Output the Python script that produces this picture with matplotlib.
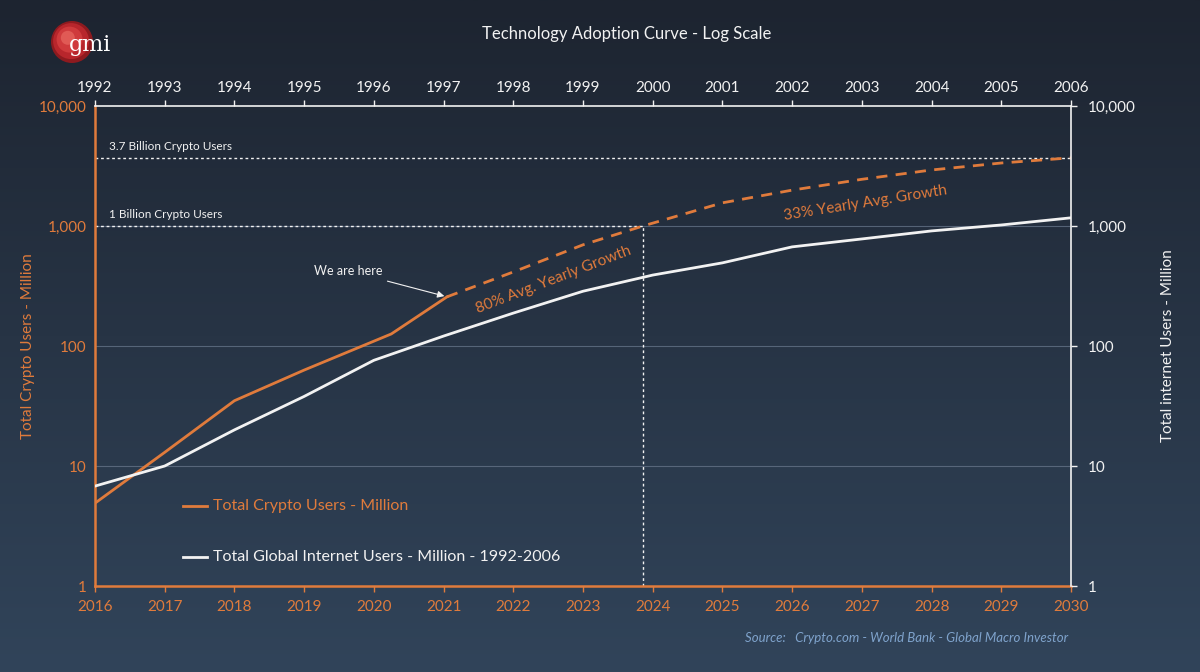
import matplotlib
matplotlib.use("Agg")
import matplotlib.pyplot as plt
import numpy as np
from matplotlib.patches import Circle

plt.rcParams['font.family'] = ['Lato', 'DejaVu Sans']

# +-----+ data +-----+ #
crypto_years = [2016, 2017, 2018, 2019, 2020.25, 2021.05]
crypto_users = [4.9, 13, 35, 63, 126, 257]

proj_years = [2021.05, 2022, 2023, 2023.86, 2025, 2026, 2027, 2028, 2029, 2030]
proj_users = [257, 414, 697, 1000, 1560, 1990, 2450, 2930, 3350, 3700]

net_years = list(range(1992, 2007))
net_users = [6.8, 10, 20, 38, 76, 121, 188, 286, 390, 493, 670, 780, 910, 1020, 1170]

y_ticks = [1, 10, 100, 1000, 10000]
y_labels = ["1", "10", "100", "1,000", "10,000"]
bottom_years = list(range(2016, 2031))
top_years = list(range(1992, 2007))

orange = '#e07b3c'
white = '#f2f2f2'

fig = plt.figure(figsize=(12, 6.72), dpi=100)

# fond en dégradé
bg = fig.add_axes([0, 0, 1, 1], zorder=-10)
grad = np.linspace(0, 1, 256).reshape(-1, 1)
c_top = np.array([29, 36, 48]) / 255
c_bot = np.array([49, 68, 90]) / 255
img = c_top + (c_bot - c_top) * grad[:, :, None]
bg.imshow(img, aspect='auto', extent=[0, 1, 0, 1])
bg.axis('off')

ax = fig.add_axes([95/1200, 86/672, 976/1200, 480/672])
ax.set_facecolor('none')
ax.set_yscale('log')
ax.set_ylim(1, 10000)
ax.set_xlim(2016, 2030)

# grille
for v in [10, 100, 1000]:
    ax.axhline(v, color='#6b7a8e', lw=0.8, alpha=0.7, zorder=1)

# lignes pointillées de repère
ax.plot([2016, 2030], [3700, 3700], color=white, lw=1, ls=(0, (2, 2)), zorder=2)
ax.plot([2016, 2023.86], [1000, 1000], color=white, lw=1, ls=(0, (2, 2)), zorder=2)
ax.plot([2023.86, 2023.86], [1, 1000], color=white, lw=1, ls=(0, (2, 2)), zorder=2)

ax.plot(crypto_years, crypto_users, color=orange, lw=2, zorder=4)
ax.plot(proj_years, proj_users, color=orange, lw=2, ls=(0, (4, 3)), zorder=4)

ax.set_xticks(bottom_years)
ax.set_xticklabels([str(y) for y in bottom_years])
ax.set_yticks(y_ticks)
ax.set_yticklabels(y_labels)
ax.yaxis.set_minor_locator(plt.NullLocator())
ax.tick_params(axis='x', colors=orange, labelsize=11, length=4, width=1, pad=6)
ax.tick_params(axis='y', colors=orange, labelsize=11, length=0, pad=6)
for s in ['left', 'bottom']:
    ax.spines[s].set_color(orange)
    ax.spines[s].set_linewidth(1.8)
ax.spines['right'].set_visible(False)
ax.spines['top'].set_visible(False)
ax.set_ylabel("Total Crypto Users - Million", color=orange, fontsize=11)
ax.yaxis.set_label_coords(-0.0615, 0.5)

# axe du haut : internet 1992-2006
axt = ax.twiny()
axt.set_xlim(1992, 2006)
axt.plot(net_years, net_users, color=white, lw=2, zorder=4)
axt.set_xticks(top_years)
axt.set_xticklabels([str(y) for y in top_years])
axt.tick_params(axis='x', colors=white, labelsize=11, length=4, width=1, pad=4)
axt.spines['top'].set_color(white)
axt.spines['top'].set_linewidth(1.2)
for s in ['left', 'bottom', 'right']:
    axt.spines[s].set_visible(False)

# axe de droite
axr = ax.twinx()
axr.set_yscale('log')
axr.set_ylim(1, 10000)
axr.set_yticks(y_ticks)
axr.set_yticklabels(y_labels)
axr.yaxis.set_minor_locator(plt.NullLocator())
axr.tick_params(axis='y', colors=white, labelsize=11, length=4, width=1, pad=8)
axr.spines['right'].set_color(white)
axr.spines['right'].set_linewidth(1.2)
for s in ['left', 'bottom', 'top']:
    axr.spines[s].set_visible(False)
axr.set_ylabel("Total internet Users - Million", color=white, fontsize=11, labelpad=18)

# textes
ax.text(2016.2, 3700 * 1.12, "3.7 Billion Crypto Users", color=white, fontsize=8.5, va='bottom')
ax.text(2016.2, 1000 * 1.12, "1 Billion Crypto Users", color=white, fontsize=8.5, va='bottom')
ax.annotate("We are here", xy=(2021.05, 257), xytext=(2020.13, 422),
            color=white, fontsize=9, ha='right', va='center',
            arrowprops=dict(arrowstyle='-|>', color=white, lw=0.8, mutation_scale=10,
                            shrinkA=4, shrinkB=2))
ax.text(2022.58, 355, "80% Avg. Yearly Growth", color=orange, fontsize=11,
        rotation=21, ha='center', va='center')
ax.text(2027.05, 1560, "33% Yearly Avg. Growth", color=orange, fontsize=11,
        rotation=9, ha='center', va='center')

# légende
fig.add_artist(plt.Line2D([183/1200, 207/1200], [1 - 506/672] * 2, color=orange, lw=2))
fig.text(213/1200, 1 - 506/672, "Total Crypto Users - Million", color=orange, fontsize=11.5, va='center')
fig.add_artist(plt.Line2D([183/1200, 207/1200], [1 - 557/672] * 2, color=white, lw=2))
fig.text(213/1200, 1 - 557/672, "Total Global Internet Users - Million - 1992-2006", color=white,
         fontsize=11.5, va='center')

fig.text(627/1200, 1 - 34/672, "Technology Adoption Curve - Log Scale", color=white,
         fontsize=12, ha='center', va='center')
fig.text(1068/1200, 1 - 638/672, "Source:   Crypto.com - World Bank - Global Macro Investor",
         color='#7fa3cc', fontsize=9.5, style='italic', ha='right', va='center')

# logo gmi
lg = fig.add_axes([40/1200, 1 - 72/672, 90/1200, 60/672])
lg.set_xlim(0, 90)
lg.set_ylim(0, 60)
lg.set_aspect('equal')
lg.axis('off')
for r, c in [(21, '#8e1a1f'), (18, '#b8262c'), (13, '#cf3a3c'), (7, '#e05a55')]:
    lg.add_patch(Circle((32 - (21 - r) * 0.3, 30 + (21 - r) * 0.3), r, color=c, lw=0))
lg.text(50, 27, "gmi", color='white', fontsize=16, family='DejaVu Serif',
        ha='center', va='center')

fig.savefig("out.png", dpi=100)
